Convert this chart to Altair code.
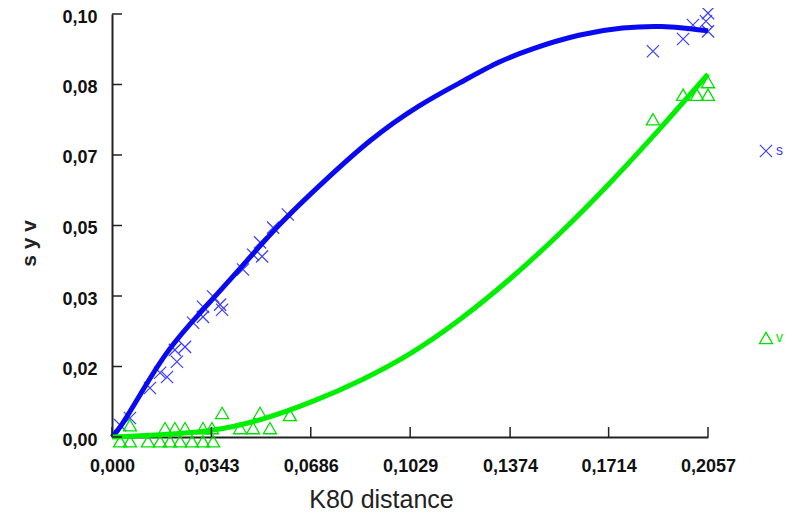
import altair as alt
import pandas as pd

# ---- data ----
s_x = [0.0028, 0.0062, 0.0131, 0.0166, 0.0190, 0.0224, 0.0217, 0.0252, 0.0280, 0.0314,
       0.0314, 0.0349, 0.0373, 0.0380, 0.0452, 0.0487, 0.0511, 0.0518, 0.0556, 0.0607,
       0.1867, 0.1971, 0.2005, 0.2057, 0.2050, 0.2057]
s_y = [0.0028, 0.0045, 0.0116, 0.0152, 0.0142, 0.0178, 0.0206, 0.0213, 0.0270, 0.0284,
       0.0308, 0.0332, 0.0313, 0.0301, 0.0396, 0.0431, 0.0460, 0.0427, 0.0495, 0.0526,
       0.0912, 0.0941, 0.0974, 0.1002, 0.0983, 0.0959]

v_x = [0.0028, 0.0062, 0.0124, 0.0166, 0.0200, 0.0235, 0.0276, 0.0314, 0.0349,
       0.0062, 0.0183, 0.0217, 0.0252, 0.0314, 0.0345, 0.0442, 0.0487, 0.0545,
       0.0380, 0.0511, 0.0614,
       0.1867, 0.1971, 0.2019, 0.2057, 0.2057]
v_y = [-0.001, -0.001, -0.001, -0.001, -0.001, -0.001, -0.001, -0.001, -0.001,
       0.0028, 0.0021, 0.0021, 0.0021, 0.0021, 0.0021, 0.0021, 0.0021, 0.0021,
       0.0057, 0.0057, 0.0052,
       0.0751, 0.0809, 0.0809, 0.0839, 0.0809]

s_fit_x = [0.0, 0.0028, 0.0097, 0.0190, 0.0304, 0.0418, 0.0580, 0.0728, 0.0890,
           0.1063, 0.1211, 0.1339, 0.1443, 0.1615, 0.1764, 0.1902, 0.2005, 0.2057]
s_fit_y = [0.0, 0.0021, 0.0100, 0.0206, 0.0294, 0.0379, 0.0507, 0.0602, 0.0704,
           0.0787, 0.0841, 0.0889, 0.0917, 0.0953, 0.0969, 0.0972, 0.0965, 0.0960]

v_fit_x = [0.0, 0.0166, 0.0338, 0.0511, 0.0694, 0.0866, 0.1029, 0.1200, 0.1374,
           0.1543, 0.1714, 0.1886, 0.2057]
v_fit_y = [0.0, 0.0005, 0.0012, 0.0038, 0.0083, 0.0135, 0.0194, 0.0275, 0.0372,
           0.0478, 0.0596, 0.0724, 0.0858]

x_ticks = [0.0, 0.0343, 0.0686, 0.1029, 0.1374, 0.1714, 0.2057]
x_labels = ["0,000", "0,0343", "0,0686", "0,1029", "0,1374", "0,1714", "0,2057"]
y_ticks = [0.0, 0.016667, 0.033333, 0.05, 0.066667, 0.083333, 0.1]
y_labels = ["0,00", "0,02", "0,03", "0,05", "0,07", "0,08", "0,10"]

series = ["s", "v"]
x_title = "K80 distance"
y_title = "s y v"

# ---- tables ----
df_s = pd.DataFrame({"x": s_x, "y": s_y})
df_v = pd.DataFrame({"x": v_x, "y": v_y})
df_sf = pd.DataFrame({"x": s_fit_x, "y": s_fit_y})
df_vf = pd.DataFrame({"x": v_fit_x, "y": v_fit_y})
df_xt = pd.DataFrame({"x": x_ticks})
df_yt = pd.DataFrame({"y": y_ticks})


def label_expr(values, labels):
    expr = "''"
    for v, l in reversed(list(zip(values, labels))):
        expr = f"(abs(datum.value - {v}) < 0.00001 ? '{l}' : {expr})"
    return expr


W, H = 596, 423
BLUE = "#0a0af0"
BLUE_M = "#3c3cff"
GREEN = "#00ee00"
GREEN_M = "#00e000"
FONT = "Liberation Sans"

xs = alt.Scale(domain=[0, 0.2057], nice=False, zero=False)
ys = alt.Scale(domain=[0, 0.1], nice=False, zero=False)

x_axis = alt.Axis(values=x_ticks, labelExpr=label_expr(x_ticks, x_labels), ticks=False,
                  grid=False, domainColor="#222222", domainWidth=2,
                  labelFont=FONT, labelFontSize=18, labelFontWeight="bold", labelColor="#111111",
                  labelPadding=20, labelFlush=False, labelOverlap=False,
                  title=x_title, titleFont=FONT, titleFontSize=25, titleFontWeight="normal",
                  titleColor="#222222", titlePadding=12, titleX=269)
y_axis = alt.Axis(values=y_ticks, labelExpr=label_expr(y_ticks, y_labels), ticks=False,
                  grid=False, domainColor="#222222", domainWidth=2,
                  labelFont=FONT, labelFontSize=18, labelFontWeight="bold", labelColor="#111111",
                  labelPadding=15, labelOffset=3, labelFlush=False, labelOverlap=False,
                  title=y_title, titleFont=FONT, titleFontSize=21, titleFontWeight="bold",
                  titleColor="#222222", titlePadding=22, titleY=229)

xcross = "M-1,-1L1,1M1,-1L-1,1"

s_pts = alt.Chart(df_s).mark_point(shape=xcross, filled=False, size=150, stroke=BLUE_M,
                                   strokeWidth=1.2, opacity=1).encode(
    x=alt.X("x:Q", scale=xs, axis=x_axis),
    y=alt.Y("y:Q", scale=ys, axis=y_axis),
)
v_pts = alt.Chart(df_v).mark_point(shape="triangle-up", filled=False, size=170, stroke=GREEN_M,
                                   strokeWidth=1.3, opacity=1).encode(
    x=alt.X("x:Q", scale=xs), y=alt.Y("y:Q", scale=ys))

s_line = alt.Chart(df_sf).mark_line(color=BLUE, strokeWidth=5, interpolate="basis").encode(
    x=alt.X("x:Q", scale=xs), y=alt.Y("y:Q", scale=ys))
v_line = alt.Chart(df_vf).mark_line(color=GREEN, strokeWidth=5, interpolate="basis").encode(
    x=alt.X("x:Q", scale=xs), y=alt.Y("y:Q", scale=ys))

# inside ticks
y_tick_marks = alt.Chart(df_yt).mark_rule(color="#222222", strokeWidth=1.5).encode(
    y=alt.Y("y:Q", scale=ys), x=alt.value(0), x2=alt.value(10))
x_tick_marks = alt.Chart(df_xt).mark_rule(color="#222222", strokeWidth=1.5).encode(
    x=alt.X("x:Q", scale=xs), y=alt.value(H - 10), y2=alt.value(H))

# legend (manual, positioned to the right of the plot)
leg_s_sym = alt.Chart(pd.DataFrame({"n": [series[0]]})).mark_point(
    shape=xcross, filled=False, size=150, stroke=BLUE_M, strokeWidth=1.2, opacity=1).encode(
    x=alt.value(654), y=alt.value(137))
leg_s_txt = alt.Chart(pd.DataFrame({"n": [series[0]]})).mark_text(
    align="left", baseline="middle", font=FONT, fontSize=14, color=BLUE_M).encode(
    text="n:N", x=alt.value(664), y=alt.value(137))
leg_v_sym = alt.Chart(pd.DataFrame({"n": [series[1]]})).mark_point(
    shape="triangle-up", filled=False, size=170, stroke=GREEN_M, strokeWidth=1.3, opacity=1).encode(
    x=alt.value(654), y=alt.value(324))
leg_v_txt = alt.Chart(pd.DataFrame({"n": [series[1]]})).mark_text(
    align="left", baseline="middle", font=FONT, fontSize=14, color=GREEN_M).encode(
    text="n:N", x=alt.value(664), y=alt.value(324))

chart = alt.layer(
    s_pts, v_pts, s_line, v_line, y_tick_marks, x_tick_marks,
    leg_s_sym, leg_s_txt, leg_v_sym, leg_v_txt
).properties(
    width=W, height=H,
    padding={"left": 104, "top": 6, "right": 79, "bottom": 75},
    autosize=alt.AutoSizeParams(type="none"),
    background="white",
).configure_view(stroke=None)

chart.save("out.html", embed_options={"renderer": "svg", "actions": False})
